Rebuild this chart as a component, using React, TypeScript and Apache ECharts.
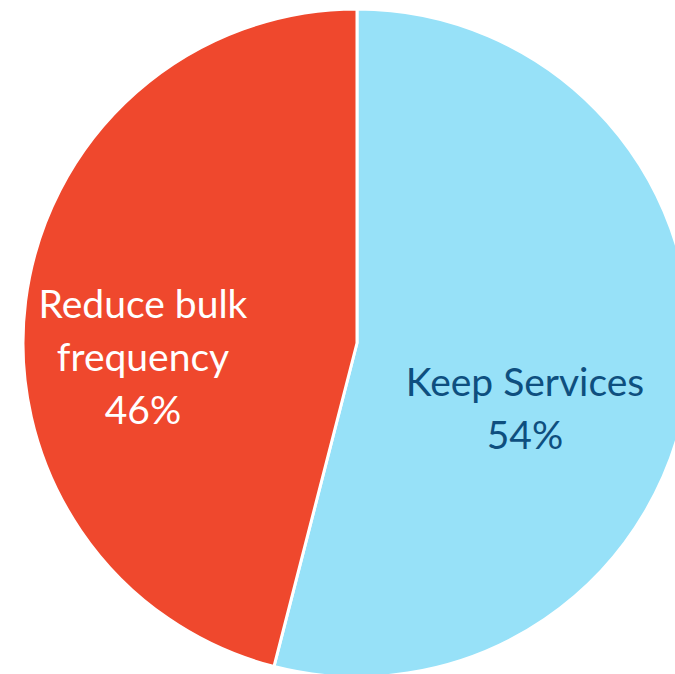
import React, { useEffect, useRef } from "react";
import * as echarts from "echarts";

const categories = ["Keep Services", "Reduce bulk\nfrequency"];
const values = [54, 46];
const colors = ["#97E1F8", "#EF482D"];
const labelColors = ["#0E4F7F", "#FFFFFF"];

export default function App() {
  const ref = useRef<HTMLDivElement>(null);
  useEffect(() => {
    const chart = echarts.init(ref.current!, null, { renderer: "svg" });
    const labelPos = [
      { x: 525, y: 407 },
      { x: 143, y: 356 },
    ];
    chart.setOption({
      animation: false,
      series: [
        {
          type: "pie",
          center: [357, 343],
          radius: 334,
          startAngle: 90,
          clockwise: true,
          data: categories.map((c, i) => ({
            name: c,
            value: values[i],
            itemStyle: { color: colors[i] },
            label: { color: labelColors[i] },
          })),
          itemStyle: { borderColor: "#FFFFFF", borderWidth: 3 },
          label: {
            show: true,
            position: "inside",
            formatter: (p: any) => `${p.name}\n${p.value}%`,
            fontFamily: "Lato",
            fontSize: 39,
            lineHeight: 53,
            align: "center",
            verticalAlign: "middle",
          },
          labelLayout: (params: any) => ({
            x: labelPos[params.dataIndex].x,
            y: labelPos[params.dataIndex].y,
            align: "center",
            verticalAlign: "middle",
          }),
          labelLine: { show: false },
          silent: true,
        },
      ],
    });
    return () => chart.dispose();
  }, []);
  return (
    <div
      ref={ref}
      style={{ position: "fixed", left: 0, top: 0, width: 675, height: 674, background: "#fff" }}
    />
  );
}
